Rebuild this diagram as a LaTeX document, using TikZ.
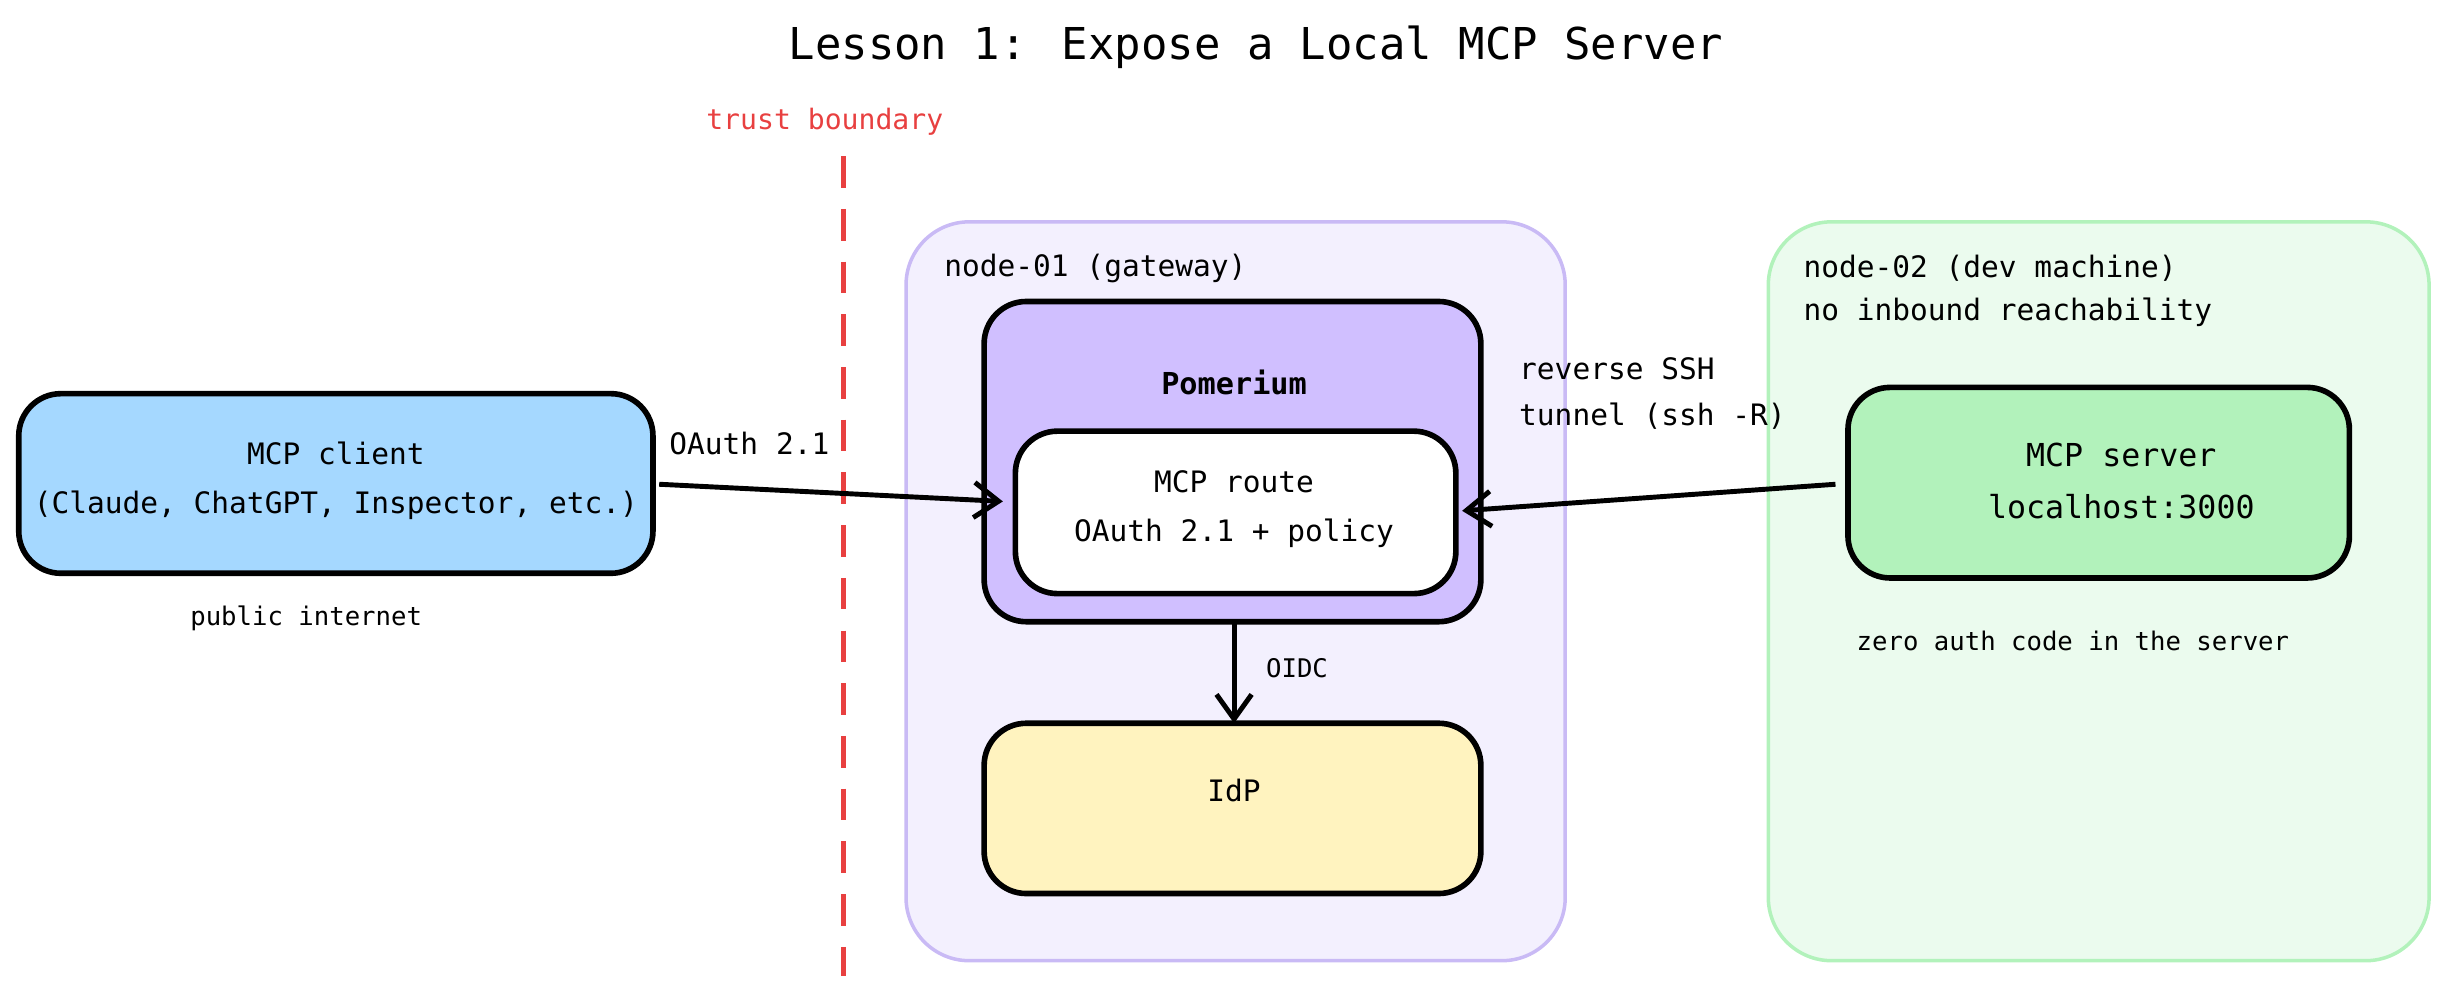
\documentclass[tikz,border=0pt]{standalone}
\usepackage{fontspec}
\setmainfont{DejaVu Sans Mono}
\usetikzlibrary{arrows.meta}
\definecolor{lavbg}{RGB}{243,240,254}
\definecolor{lavline}{RGB}{201,186,245}
\definecolor{grnbg}{RGB}{235,251,238}
\definecolor{grnline}{RGB}{178,242,187}
\definecolor{clientfill}{RGB}{165,216,255}
\definecolor{pomfill}{RGB}{208,191,255}
\definecolor{idpfill}{RGB}{255,243,191}
\definecolor{srvfill}{RGB}{178,242,187}
\definecolor{trustred}{RGB}{232,64,64}
\tikzset{every picture/.style={line width=0.75pt}}
\tikzset{
  zone/.style={rounded corners=18pt, line width=1pt},
  box/.style={draw=black, line width=1.6pt, rounded corners=12pt},
  lbl/.style={inner sep=0.75pt, font=\fontsize{8.4}{11}\selectfont},
  small/.style={inner sep=0.75pt, font=\fontsize{7.3}{10}\selectfont},
  arr/.style={-{Straight Barb[length=7pt,width=10pt]}, line width=1.4pt}
}
\begin{document}
\begin{tikzpicture}[x=0.015621cm,y=-0.015625cm]
\useasboundingbox (0,0) rectangle (1562,640);
% zones
\draw [zone, draw=lavline, fill=lavbg] (580,142) rectangle (1002,615);
\draw [zone, draw=grnline, fill=grnbg] (1132,142) rectangle (1555,615);
\node [lbl, anchor=west] (n1) at (602,172) {node-01 (gateway)};
\node [lbl, anchor=west] (n2a) at (1152,172) {node-02 (dev machine)};
\node [lbl, anchor=west] (n2b) at (1152,200) {no inbound reachability};
% title
\node [inner sep=0.75pt, font=\fontsize{12.5}{15}\selectfont] (title) at (804,30) {Lesson 1: Expose a Local MCP Server};
% trust boundary
\node [lbl, text=trustred, font=\fontsize{8}{10}\selectfont] (tb) at (528,78) {trust boundary};
\coordinate (tbtop) at (540,100);
\coordinate (tbbot) at (540,625);
\draw [trustred, line width=1.6pt, dash pattern=on 9pt off 6pt] (tbtop) -- (tbbot);
% boxes
\draw [box, fill=clientfill] (12,252) rectangle (418,367);
\node [lbl, align=center] (client) at (215,308) {MCP client\\[3pt](Claude, ChatGPT, Inspector, etc.)};
\coordinate (clientE) at (422,310);
\node [small] (pub) at (196,396) {public internet};
\draw [box, fill=pomfill] (630,193) rectangle (948,398);
\node [lbl, font=\bfseries\fontsize{8.6}{11}\selectfont] (pom) at (790,245) {Pomerium};
\draw [box, fill=white] (650,276) rectangle (932,380);
\node [lbl, align=center] (route) at (790,326) {MCP route\\[3pt]OAuth 2.1 + policy};
\coordinate (routeW) at (642,321);
\coordinate (routeE) at (936,327);
\coordinate (pomS) at (790,398);
\draw [box, fill=idpfill] (630,463) rectangle (948,572);
\node [lbl] (idp) at (790,506) {IdP};
\coordinate (idpN) at (790,463);
\draw [box, fill=srvfill] (1183,248) rectangle (1504,370);
\node [lbl, align=center, font=\fontsize{9}{12}\selectfont] (srv) at (1358,308) {MCP server\\[3pt]localhost:3000};
\coordinate (srvW) at (1175,310);
\node [small] (zero) at (1327,410) {zero auth code in the server};
% connectors
\draw [arr] (clientE) -- (routeW);
\node [lbl, anchor=west] (oauth) at (426,284) {OAuth 2.1};
\draw [arr] (srvW) -- (routeE);
\node [lbl, anchor=west, align=left] (rev) at (970,252) {reverse SSH\\[2pt]tunnel (ssh -R)};
\draw [arr] (pomS) -- (idpN);
\node [small, anchor=west] (oidc) at (808,428) {OIDC};
\end{tikzpicture}
\end{document}
